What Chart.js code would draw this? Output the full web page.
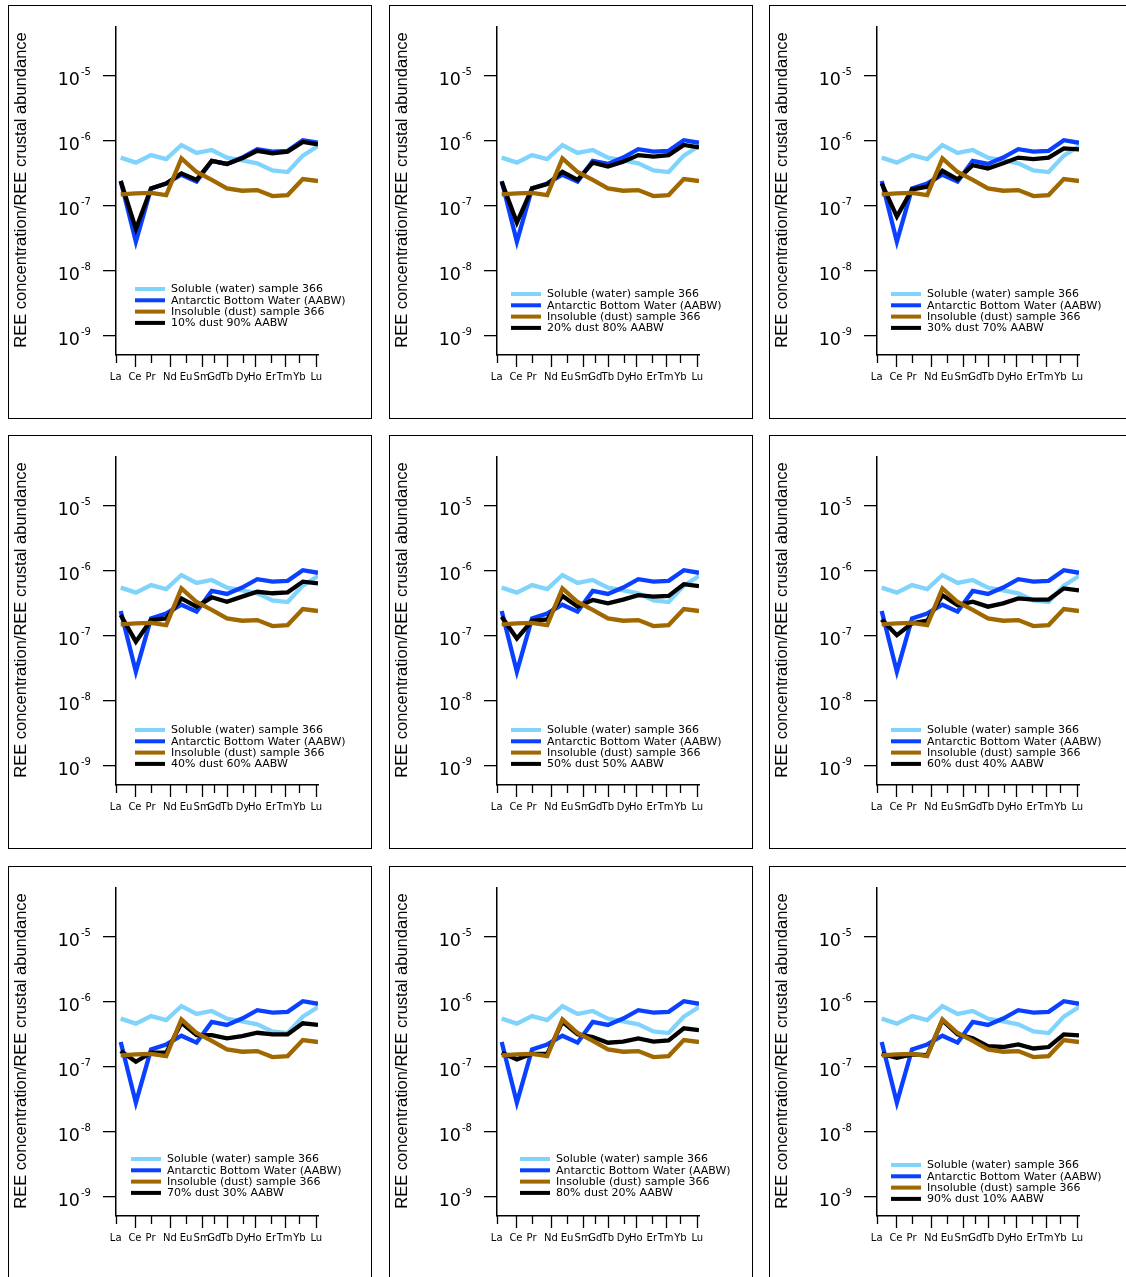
<!DOCTYPE html>
<html>
<head>
<meta charset="utf-8">
<script src="https://cdn.jsdelivr.net/npm/chart.js@4"></script>
<style>
  html, body { margin: 0; padding: 0; background: #fff; width: 1126px; height: 1277px; overflow: hidden; }
  .panel { position: absolute; width: 364px; height: 414px; border: 1px solid #000; box-sizing: border-box; background: #fff; }
  .panel canvas { position: absolute; left: 0; top: 0; }
</style>
</head>
<body>
<script>
// REE patterns, normalised to crustal abundance

const elements = ["La", "Ce", "Pr", "Nd", "Eu", "Sm", "Gd", "Tb", "Dy", "Ho", "Er", "Tm", "Yb", "Lu"];
// where the element names sit on the x axis (x units, La point = 1)
const tickPositions = [0.67, 1.94, 2.97, 4.24, 5.30, 6.33, 7.16, 7.99, 9.03, 9.84, 10.89, 11.80, 12.78, 13.89];
const yTickExponents = [-9, -8, -7, -6, -5];

const soluble = [5.5e-7, 4.6e-7, 6.0e-7, 5.2e-7, 8.6e-7, 6.5e-7, 7.2e-7, 5.5e-7, 5.0e-7, 4.5e-7, 3.5e-7, 3.3e-7, 5.9e-7, 8.3e-7];
const aabw    = [2.4e-7, 2.8e-8, 1.85e-7, 2.2e-7, 3.0e-7, 2.35e-7, 4.9e-7, 4.4e-7, 5.5e-7, 7.4e-7, 6.8e-7, 7.0e-7, 1.02e-6, 9.3e-7];
const dust    = [1.5e-7, 1.55e-7, 1.58e-7, 1.46e-7, 5.35e-7, 3.3e-7, 2.5e-7, 1.85e-7, 1.7e-7, 1.74e-7, 1.41e-7, 1.46e-7, 2.57e-7, 2.4e-7];

const mix10 = [2.4e-7, 4.4e-8, 1.85e-7, 2.2e-7, 3.15e-7, 2.5e-7, 4.9e-7, 4.4e-7, 5.35e-7, 7.0e-7, 6.4e-7, 6.8e-7, 9.6e-7, 8.8e-7];
const mix20 = [2.34e-7, 5.5e-8, 1.85e-7, 2.15e-7, 3.33e-7, 2.5e-7, 4.6e-7, 4.0e-7, 4.75e-7, 6.0e-7, 5.7e-7, 6.0e-7, 8.6e-7, 7.9e-7];
const mix30 = [2.2e-7, 6.8e-8, 1.78e-7, 1.96e-7, 3.45e-7, 2.54e-7, 4.2e-7, 3.75e-7, 4.5e-7, 5.5e-7, 5.2e-7, 5.5e-7, 7.6e-7, 7.35e-7];
const mix40 = [2.08e-7, 8.1e-8, 1.74e-7, 1.85e-7, 3.75e-7, 2.8e-7, 3.9e-7, 3.33e-7, 4.0e-7, 4.75e-7, 4.5e-7, 4.65e-7, 6.8e-7, 6.4e-7];
const mix50 = [1.96e-7, 9.1e-8, 1.7e-7, 1.78e-7, 4.1e-7, 2.8e-7, 3.55e-7, 3.15e-7, 3.6e-7, 4.2e-7, 4.0e-7, 4.1e-7, 6.2e-7, 5.8e-7];
const mix60 = [1.78e-7, 1.02e-7, 1.55e-7, 1.7e-7, 4.2e-7, 2.96e-7, 3.33e-7, 2.8e-7, 3.15e-7, 3.75e-7, 3.6e-7, 3.6e-7, 5.35e-7, 5.0e-7];
const mix70 = [1.74e-7, 1.19e-7, 1.64e-7, 1.64e-7, 4.75e-7, 3.07e-7, 3.07e-7, 2.73e-7, 2.96e-7, 3.33e-7, 3.15e-7, 3.15e-7, 4.65e-7, 4.4e-7];
const mix80 = [1.64e-7, 1.3e-7, 1.58e-7, 1.58e-7, 4.9e-7, 3.15e-7, 2.86e-7, 2.34e-7, 2.43e-7, 2.73e-7, 2.43e-7, 2.54e-7, 3.9e-7, 3.66e-7];
const mix90 = [1.58e-7, 1.37e-7, 1.55e-7, 1.51e-7, 5.15e-7, 3.15e-7, 2.73e-7, 2.08e-7, 2.01e-7, 2.2e-7, 1.91e-7, 2.01e-7, 3.15e-7, 3.03e-7];

const mixes = [mix10, mix20, mix30, mix40, mix50, mix60, mix70, mix80, mix90];
const mixLabels = [
  "10% dust 90% AABW", "20% dust 80% AABW", "30% dust 70% AABW",
  "40% dust 60% AABW", "50% dust 50% AABW", "60% dust 40% AABW",
  "70% dust 30% AABW", "80% dust 20% AABW", "90% dust 10% AABW"
];
const seriesLabels = ["Soluble (water) sample 366", "Antarctic Bottom Water (AABW)", "Insoluble (dust) sample 366"];

// layout
const panelLeft = [8, 389, 769];
const panelTop = [5, 435, 866];
const legendPos = [[127, 284], [122, 289], [122, 289], [127, 295], [122, 295], [122, 295], [123, 293], [131, 293], [122, 299]];

const COLORS = {
  soluble: "#80d4fc",
  aabw: "#0a40ff",
  dust: "#a06800",
  mix: "#000000"
};

const FONT_TICK = '"DejaVu Sans", Verdana, sans-serif';
const FONT_TITLE = '"Liberation Sans", Arial, sans-serif';

const decoPlugin = {
  id: "deco",
  afterDraw(chart, args, opts) {
    const ctx = chart.ctx;
    const xs = chart.scales.x, ys = chart.scales.y;
    const area = chart.chartArea;
    ctx.save();
    ctx.fillStyle = "#000";
    ctx.strokeStyle = "#000";

    // y tick labels 10^n
    yTickExponents.forEach(e => {
      const py = ys.getPixelForValue(Math.pow(10, e));
      ctx.font = "17.5px " + FONT_TICK;
      ctx.textAlign = "right";
      ctx.textBaseline = "alphabetic";
      ctx.fillText("10", area.left - 36, py + 9);
      ctx.font = "10px " + FONT_TICK;
      ctx.textAlign = "left";
      ctx.fillText(String(e), area.left - 35, py - 1);
    });

    // x tick marks, alternating length
    ctx.lineWidth = 1.3;
    tickPositions.forEach((v, i) => {
      const px = Math.round(xs.getPixelForValue(v)) + 0.5;
      const len = i % 2 ? 12 : 8;
      ctx.beginPath();
      ctx.moveTo(px, area.bottom);
      ctx.lineTo(px, area.bottom + len);
      ctx.stroke();
    });

    // y axis title
    ctx.save();
    ctx.translate(12.5, 184);
    ctx.rotate(-Math.PI / 2);
    ctx.font = "16.5px " + FONT_TITLE;
    ctx.textAlign = "center";
    ctx.textBaseline = "middle";
    ctx.fillText("REE concentration/REE crustal abundance", 0, 0);
    ctx.restore();

    // legend
    const lx = opts.x, ly = opts.y;
    const items = chart.data.datasets;
    ctx.font = "11px " + FONT_TICK;
    ctx.textAlign = "left";
    ctx.textBaseline = "middle";
    items.forEach((ds, i) => {
      const yy = ly + i * 11.3;
      ctx.fillStyle = ds.borderColor;
      ctx.fillRect(lx, yy - 2, 30, 4);
      ctx.fillStyle = "#000";
      ctx.fillText(ds.label, lx + 36, yy + 0.5);
    });
    ctx.restore();
  }
};

function makeLine(label, values, color, order) {
  return {
    label: label,
    data: values.map((v, i) => ({ x: i + 1, y: v })),
    borderColor: color,
    backgroundColor: color,
    borderWidth: 4.3,
    borderJoinStyle: "miter",
    borderCapStyle: "butt",
    pointRadius: 0,
    tension: 0,
    fill: false,
    order: order
  };
}

mixes.forEach((mix, k) => {
  const col = k % 3, row = Math.floor(k / 3);
  const div = document.createElement("div");
  div.className = "panel";
  div.style.left = panelLeft[col] + "px";
  div.style.top = panelTop[row] + "px";
  const canvas = document.createElement("canvas");
  canvas.width = 362;
  canvas.height = 412;
  canvas.style.width = "362px";
  canvas.style.height = "412px";
  div.appendChild(canvas);
  document.body.appendChild(div);

  new Chart(canvas.getContext("2d"), {
    type: "line",
    data: {
      datasets: [
        makeLine(seriesLabels[0], soluble, COLORS.soluble, 3),
        makeLine(seriesLabels[1], aabw, COLORS.aabw, 2),
        makeLine(seriesLabels[2], dust, COLORS.dust, 0),
        makeLine(mixLabels[k], mix, COLORS.mix, 1)
      ]
    },
    options: {
      responsive: false,
      animation: false,
      devicePixelRatio: 1,
      layout: { padding: { top: 21, right: 53, left: 0, bottom: 0 } },
      plugins: {
        legend: { display: false },
        tooltip: { enabled: false },
        deco: { x: legendPos[k][0] - 1, y: legendPos[k][1] - 1 }
      },
      scales: {
        x: {
          type: "linear",
          min: 0.691,
          max: 14,
          grid: { display: false, drawTicks: false },
          border: { display: true, color: "#000", width: 1.5 },
          afterBuildTicks: s => { s.ticks = tickPositions.map(v => ({ value: v })); },
          afterFit: s => { s.height = 63; },
          ticks: {
            autoSkip: false,
            maxRotation: 0,
            minRotation: 0,
            padding: 16,
            color: "#000",
            font: { family: FONT_TICK, size: 10 },
            callback: (v, i) => elements[i]
          }
        },
        y: {
          type: "logarithmic",
          min: Math.pow(10, -9.297),
          max: Math.pow(10, -4.25),
          grid: { display: true, drawOnChartArea: false, drawTicks: true, tickLength: 13, color: "#000", lineWidth: 1.3 },
          border: { display: true, color: "#000", width: 1.5 },
          afterBuildTicks: s => { s.ticks = yTickExponents.map(e => ({ value: Math.pow(10, e), major: true })); },
          afterFit: s => { s.width = 107; },
          ticks: { display: false }
        }
      }
    },
    plugins: [decoPlugin]
  });
});
</script>
</body>
</html>
